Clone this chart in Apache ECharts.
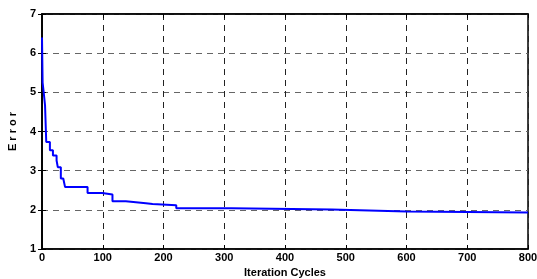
<!DOCTYPE html>
<html>
<head>
<meta charset="utf-8">
<script src="https://cdn.jsdelivr.net/npm/echarts@6/dist/echarts.min.js"></script>
<style>
  html, body { margin: 0; padding: 0; background: #fff; }
  #chart { width: 537px; height: 279px; }
</style>
</head>
<body>
<div id="chart"></div>
<script>
// iteration where the error changes, and the new error value (staircase)
var iterations = [0, 1, 3, 5, 7, 13, 18, 24, 26, 31, 35, 38, 75, 99, 116, 138, 171, 182, 221, 312, 477, 600, 800]
var errors = [6.4, 5.25, 4.97, 4.67, 3.73, 3.52, 3.39, 3.26, 3.09, 2.8, 2.75, 2.58, 2.43, 2.39, 2.22, 2.17, 2.15, 2.12, 2.04, 2.01, 1.96, 1.93, 1.93]
var xTicks = [0, 100, 200, 300, 400, 500, 600, 700, 800]
var yTicks = [1, 2, 3, 4, 5, 6, 7]

var chart = echarts.init(document.getElementById('chart'))
var font = 'Arial, "Liberation Sans", sans-serif'

var points = iterations.map(function (x, i) { return [x, errors[i]] })

var labelStyle = { fontFamily: font, fontWeight: 'bold', fontSize: 11, color: '#000' }

chart.setOption({
  animation: false,
  grid: {
    left: 42,
    right: 9,
    top: 14,
    bottom: 30,
    outerBoundsMode: 'none',
    show: true,
    borderColor: '#000',
    borderWidth: 1.5
  },
  xAxis: [{
    type: 'value',
    min: xTicks[0],
    max: xTicks[xTicks.length - 1],
    interval: 100,
    name: 'Iteration Cycles',
    nameLocation: 'middle',
    nameGap: 18,
    nameTextStyle: labelStyle,
    axisLine: { lineStyle: { color: '#000', width: 1.5 } },
    axisTick: { inside: true, length: 4, lineStyle: { color: '#000' } },
    axisLabel: Object.assign({ margin: 3 }, labelStyle),
    splitLine: { show: true, lineStyle: { color: '#222', type: [6, 5], width: 1 } }
  }, {
    type: 'value',
    position: 'top',
    min: xTicks[0],
    max: xTicks[xTicks.length - 1],
    interval: 100,
    axisLine: { lineStyle: { color: '#000', width: 1.5 } },
    axisTick: { inside: true, length: 4, lineStyle: { color: '#000' } },
    axisLabel: { show: false },
    splitLine: { show: false }
  }],
  yAxis: [{
    type: 'value',
    min: yTicks[0],
    max: yTicks[yTicks.length - 1],
    interval: 1,
    name: 'E r r o r',
    nameLocation: 'middle',
    nameGap: 24,
    nameRotate: 90,
    nameTextStyle: labelStyle,
    axisLine: { show: true, lineStyle: { color: '#000', width: 1.5 } },
    axisTick: { show: true, inside: true, length: 4, lineStyle: { color: '#000' } },
    axisLabel: Object.assign({ margin: 6 }, labelStyle),
    splitLine: { show: true, lineStyle: { color: '#666', type: [6, 5], width: 1 } }
  }, {
    type: 'value',
    position: 'right',
    min: yTicks[0],
    max: yTicks[yTicks.length - 1],
    interval: 1,
    axisLine: { show: true, lineStyle: { color: '#000', width: 1.5 } },
    axisTick: { show: true, inside: true, length: 4, lineStyle: { color: '#000' } },
    axisLabel: { show: false },
    splitLine: { show: false }
  }],
  series: [{
    type: 'line',
    step: 'end',
    data: points,
    symbol: 'none',
    lineStyle: { color: '#0000ff', width: 2 }
  }]
})
</script>
</body>
</html>
